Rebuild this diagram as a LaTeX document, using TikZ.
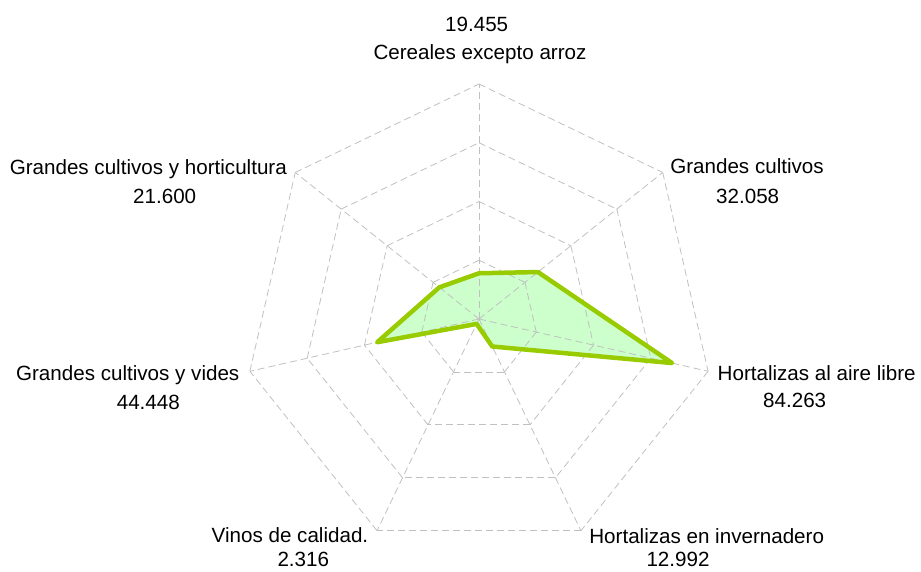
\documentclass[tikz,border=0pt]{standalone}
\usepackage{fontspec}
\setmainfont{Liberation Sans}
\definecolor{gridgray}{HTML}{C0C0C0}
\definecolor{serieslime}{HTML}{99CC00}
\definecolor{seriesfill}{HTML}{CCFFCC}
\begin{document}
\begin{tikzpicture}[x=1pt,y=1pt,
  grid/.style={draw=gridgray, line width=0.8pt, dash pattern=on 7pt off 4pt},
  series/.style={draw=serieslime, line width=4.5pt, line join=round},
  lbl/.style={font=\fontsize{20.6}{24}\selectfont, anchor=base, inner sep=0pt, text=black}]
\useasboundingbox (0,0) rectangle (921,572);
\coordinate (O) at (479,253);
\foreach \k in {0,...,6}{
  \foreach \r in {1,...,4}{
    \coordinate (g\k-\r) at ([shift={({90-\k*360/7}:{\r*58.75})}]O);
  }
}
\foreach \v [count=\k from 0] in {19.455,32.058,84.263,12.992,2.316,44.448,21.600}{
  \coordinate (d\k) at ([shift={({90-\k*360/7}:{\v*2.35})}]O);
}
% series fill
\fill[seriesfill] (d0) -- (d1) -- (d2) -- (d3) -- (d4) -- (d5) -- (d6) -- cycle;
% grid rings
\foreach \r in {1,...,4}{
  \foreach \k [evaluate=\k as \n using {int(mod(\k+1,7))}] in {0,...,6}{
    \draw[grid] (g\k-\r) -- (g\n-\r);
  }
}
% axes
\foreach \k in {0,...,6}{
  \draw[grid] (O) -- (g\k-4);
}
% series outline
\draw[series] (d0) -- (d1) -- (d2) -- (d3) -- (d4) -- (d5) -- (d6) -- cycle;
% labels
\node[lbl] (v0) at (476.7,540.3) {19.455};
\node[lbl] (n0) at (480,512) {Cereales excepto arroz};
\node[lbl] (n1) at (747,398) {Grandes cultivos};
\node[lbl] (v1) at (747.7,368) {32.058};
\node[lbl] (n2) at (816.7,191.3) {Hortalizas al aire libre};
\node[lbl] (v2) at (794.7,164.7) {84.263};
\node[lbl] (n3) at (706.7,28.7) {Hortalizas en invernadero};
\node[lbl] (v3) at (678,5) {12.992};
\node[lbl] (n4) at (290,29.3) {Vinos de calidad.};
\node[lbl] (v4) at (303.3,5.3) {2.316};
\node[lbl] (n5) at (127.7,191.3) {Grandes cultivos y vides};
\node[lbl] (v5) at (148.3,162.7) {44.448};
\node[lbl] (n6) at (148.3,397) {Grandes cultivos y horticultura};
\node[lbl] (v6) at (164.7,368.7) {21.600};
\end{tikzpicture}
\end{document}
